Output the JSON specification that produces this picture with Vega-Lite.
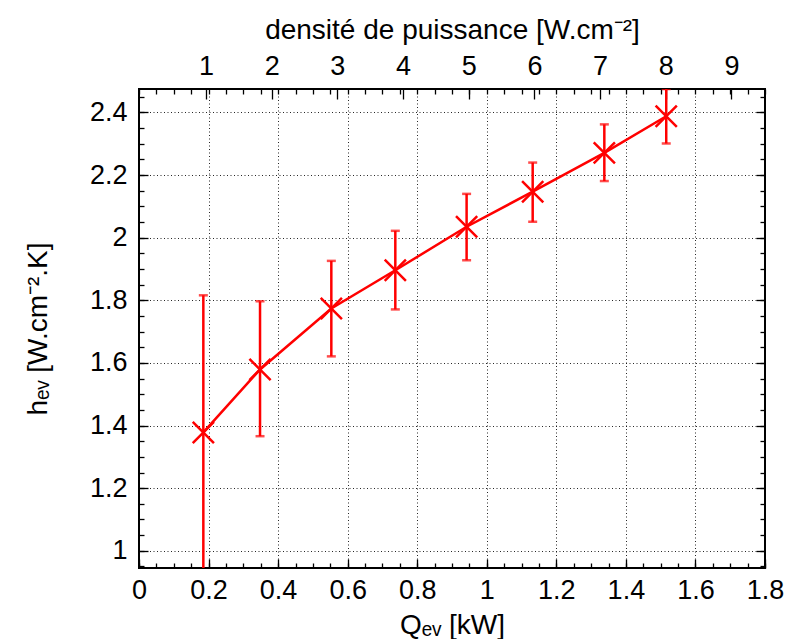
{
  "$schema": "https://vega.github.io/schema/vega-lite/v6.json",
  "autosize": {"type": "none"},
  "padding": {"left": 139, "top": 89, "right": 27, "bottom": 71},
  "width": 626,
  "height": 479,
  "background": "white",
  "config": {
    "view": {"stroke": "black", "strokeWidth": 2},
    "font": "Liberation Sans",
    "axis": {
      "labelFont": "Liberation Sans",
      "titleFont": "Liberation Sans",
      "labelFontSize": 27,
      "titleFontSize": 28,
      "labelColor": "black",
      "titleColor": "black",
      "titleFontWeight": "normal",
      "domain": false,
      "grid": false,
      "tickColor": "black",
      "tickWidth": 1.3,
      "gridColor": "black",
      "gridDash": [1, 2.5],
      "gridWidth": 1,
      "gridOpacity": 0.85
    }
  },
  "data": {
    "values": [
      {"Q": 0.185, "h": 1.378, "lo": 0.94, "hi": 1.816, "dens": 0.97},
      {"Q": 0.348, "h": 1.579, "lo": 1.366, "hi": 1.797, "dens": 1.82},
      {"Q": 0.553, "h": 1.774, "lo": 1.621, "hi": 1.926, "dens": 2.91},
      {"Q": 0.737, "h": 1.896, "lo": 1.771, "hi": 2.022, "dens": 3.88},
      {"Q": 0.942, "h": 2.035, "lo": 1.928, "hi": 2.14, "dens": 4.97},
      {"Q": 1.132, "h": 2.147, "lo": 2.051, "hi": 2.24, "dens": 5.97},
      {"Q": 1.338, "h": 2.271, "lo": 2.181, "hi": 2.362, "dens": 7.06},
      {"Q": 1.516, "h": 2.388, "lo": 2.301, "hi": 2.475, "dens": 8.0}
    ]
  },
  "resolve": {
    "scale": {"x": "independent", "y": "independent"},
    "axis": {"x": "independent", "y": "independent"}
  },
  "layer": [
    {
      "mark": {"type": "rule", "color": "#ff0000", "strokeWidth": 2.5, "clip": true},
      "encoding": {
        "x": {
          "field": "Q", "type": "quantitative",
          "scale": {"domain": [0, 1.8], "nice": false, "zero": false},
          "axis": {
            "orient": "bottom",
            "values": [0, 0.2, 0.4, 0.6, 0.8, 1, 1.2, 1.4, 1.6, 1.8],
            "format": "~g",
            "grid": true, "ticks": false, "labelPadding": 9,
            "labelFlush": false,
            "title": "Qₑᵥ [kW]", "titlePadding": 8
          }
        },
        "y": {
          "field": "lo", "type": "quantitative",
          "scale": {"domain": [0.945, 2.475], "nice": false, "zero": false},
          "axis": {
            "orient": "left",
            "values": [1, 1.2, 1.4, 1.6, 1.8, 2, 2.2, 2.4],
            "format": "~g",
            "grid": true, "ticks": false, "labelPadding": 12,
            "labelFlush": false,
            "title": "hₑᵥ [W.cm⁻².K]", "titlePadding": 37
          }
        },
        "y2": {"field": "hi"}
      }
    },
    {
      "mark": {"type": "tick", "orient": "horizontal", "color": "#ff0000", "size": 9, "thickness": 2.5, "clip": true},
      "encoding": {
        "x": {
          "field": "Q", "type": "quantitative",
          "scale": {"domain": [0, 1.8], "nice": false, "zero": false},
          "axis": {
            "orient": "bottom",
            "values": [0, 0.05, 0.1, 0.15, 0.2, 0.25, 0.3, 0.35, 0.4, 0.45, 0.5, 0.55, 0.6, 0.65, 0.7, 0.75, 0.8, 0.85, 0.9, 0.95, 1, 1.05, 1.1, 1.15, 1.2, 1.25, 1.3, 1.35, 1.4, 1.45, 1.5, 1.55, 1.6, 1.65, 1.7, 1.75, 1.8],
            "offset": -5, "tickSize": 5, "labels": false, "title": null
          }
        },
        "y": {
          "field": "hi", "type": "quantitative",
          "scale": {"domain": [0.945, 2.475], "nice": false, "zero": false},
          "axis": {
            "orient": "left",
            "values": [0.95, 1, 1.05, 1.1, 1.15, 1.2, 1.25, 1.3, 1.35, 1.4, 1.45, 1.5, 1.55, 1.6, 1.65, 1.7, 1.75, 1.8, 1.85, 1.9, 1.95, 2, 2.05, 2.1, 2.15, 2.2, 2.25, 2.3, 2.35, 2.4, 2.45],
            "offset": -5, "tickSize": 5, "labels": false, "title": null
          }
        }
      }
    },
    {
      "mark": {"type": "tick", "orient": "horizontal", "color": "#ff0000", "size": 9, "thickness": 2.5, "clip": true},
      "encoding": {
        "x": {
          "field": "Q", "type": "quantitative",
          "scale": {"domain": [0, 1.8], "nice": false, "zero": false},
          "axis": {
            "orient": "bottom",
            "values": [0, 0.2, 0.4, 0.6, 0.8, 1, 1.2, 1.4, 1.6, 1.8],
            "offset": -9, "tickSize": 9, "labels": false, "title": null
          }
        },
        "y": {
          "field": "lo", "type": "quantitative",
          "scale": {"domain": [0.945, 2.475], "nice": false, "zero": false},
          "axis": {
            "orient": "left",
            "values": [1, 1.2, 1.4, 1.6, 1.8, 2, 2.2, 2.4],
            "offset": -9, "tickSize": 9, "labels": false, "title": null
          }
        }
      }
    },
    {
      "mark": {"type": "line", "color": "#ff0000", "strokeWidth": 2.5, "clip": true},
      "encoding": {
        "x": {
          "field": "Q", "type": "quantitative",
          "scale": {"domain": [0, 1.8], "nice": false, "zero": false},
          "axis": {
            "orient": "top",
            "values": [0, 0.05, 0.1, 0.15, 0.2, 0.25, 0.3, 0.35, 0.4, 0.45, 0.5, 0.55, 0.6, 0.65, 0.7, 0.75, 0.8, 0.85, 0.9, 0.95, 1, 1.05, 1.1, 1.15, 1.2, 1.25, 1.3, 1.35, 1.4, 1.45, 1.5, 1.55, 1.6, 1.65, 1.7, 1.75, 1.8],
            "offset": -5, "tickSize": 5, "labels": false, "title": null
          }
        },
        "y": {
          "field": "h", "type": "quantitative",
          "scale": {"domain": [0.945, 2.475], "nice": false, "zero": false},
          "axis": {
            "orient": "right",
            "values": [0.95, 1, 1.05, 1.1, 1.15, 1.2, 1.25, 1.3, 1.35, 1.4, 1.45, 1.5, 1.55, 1.6, 1.65, 1.7, 1.75, 1.8, 1.85, 1.9, 1.95, 2, 2.05, 2.1, 2.15, 2.2, 2.25, 2.3, 2.35, 2.4, 2.45],
            "offset": -5, "tickSize": 5, "labels": false, "title": null
          }
        }
      }
    },
    {
      "mark": {"type": "point", "shape": "M-1,-1L1,1M1,-1L-1,1", "size": 450, "filled": false, "stroke": "#ff0000", "strokeWidth": 2.5, "opacity": 1, "clip": true},
      "encoding": {
        "x": {
          "field": "Q", "type": "quantitative",
          "scale": {"domain": [0, 1.8], "nice": false, "zero": false},
          "axis": null
        },
        "y": {
          "field": "h", "type": "quantitative",
          "scale": {"domain": [0.945, 2.475], "nice": false, "zero": false},
          "axis": {
            "orient": "right",
            "values": [1, 1.2, 1.4, 1.6, 1.8, 2, 2.2, 2.4],
            "offset": -9, "tickSize": 9, "labels": false, "title": null
          }
        }
      }
    },
    {
      "mark": {"type": "point", "opacity": 0},
      "encoding": {
        "x": {
          "field": "dens", "type": "quantitative",
          "scale": {"domain": [-0.02, 9.51], "nice": false, "zero": false},
          "axis": {
            "orient": "top",
            "values": [1, 2, 3, 4, 5, 6, 7, 8, 9],
            "ticks": false, "labelPadding": 9,
            "labelFlush": false,
            "title": "densité de puissance [W.cm⁻²]", "titlePadding": 8
          }
        },
        "y": {
          "field": "h", "type": "quantitative",
          "scale": {"domain": [0.945, 2.475], "nice": false, "zero": false},
          "axis": null
        }
      }
    },
    {
      "mark": {"type": "point", "opacity": 0},
      "encoding": {
        "x": {
          "field": "dens", "type": "quantitative",
          "scale": {"domain": [-0.02, 9.51], "nice": false, "zero": false},
          "axis": {
            "orient": "top",
            "values": [1, 2, 3, 4, 5, 6, 7, 8, 9],
            "offset": -10, "tickSize": 10, "labels": false, "title": null
          }
        },
        "y": {
          "field": "h", "type": "quantitative",
          "scale": {"domain": [0.945, 2.475], "nice": false, "zero": false},
          "axis": null
        }
      }
    }
  ]
}
